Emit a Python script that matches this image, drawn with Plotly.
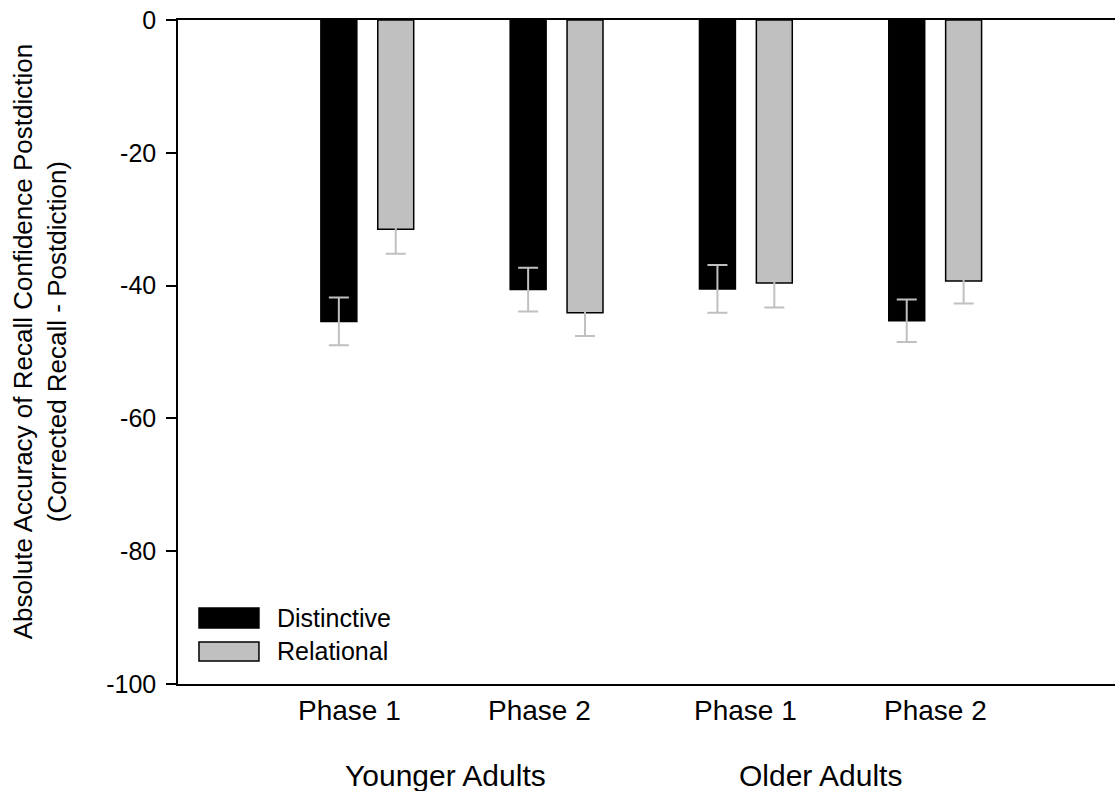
import plotly.graph_objects as go
import numpy as np

phases = ["Phase 1", "Phase 2", "Phase 1", "Phase 2"]
groups = ["Younger Adults", "Older Adults"]
distinctive = [-45.4, -40.6, -40.5, -45.3]
distinctive_err = [3.6, 3.3, 3.6, 3.2]
relational = [-31.5, -44.1, -39.6, -39.3]
relational_err = [3.7, 3.5, 3.7, 3.4]
y_ticks = [0, -20, -40, -60, -80, -100]

FONT = "Liberation Sans, Arial, sans-serif"
xpos = np.arange(len(phases))

err_style = dict(type="data", visible=True, color="#c0c0c0", thickness=2, width=10)

fig = go.Figure()
fig.add_trace(go.Bar(
    x=xpos, y=distinctive, name="Distinctive",
    marker=dict(color="#000000", line=dict(color="#000000", width=1.5)),
    error_y=dict(array=distinctive_err, **err_style),
))
fig.add_trace(go.Bar(
    x=xpos, y=relational, name="Relational",
    marker=dict(color="#c0c0c0", line=dict(color="#000000", width=1.5)),
    error_y=dict(array=relational_err, **err_style),
))

fig.update_layout(
    width=1115, height=791,
    margin=dict(l=178, r=0, t=20, b=107),
    paper_bgcolor="white", plot_bgcolor="white",
    barmode="group", bargap=0.399, bargroupgap=0.368,
    showlegend=False,
    font=dict(family=FONT, size=25, color="black"),
)
fig.update_xaxes(
    range=[-1.0, 3.95], showgrid=False, zeroline=False,
    showline=True, linecolor="black", linewidth=1.5, mirror=True,
    showticklabels=False, ticks="",
)
fig.update_yaxes(
    range=[-100, 0], tickvals=y_ticks, ticktext=[str(v) for v in y_ticks],
    showgrid=False, zeroline=False,
    showline=True, linecolor="black", linewidth=1.5,
    ticks="outside", ticklen=10, tickwidth=1.5, tickcolor="black",
    ticklabelstandoff=5,
    tickfont=dict(family=FONT, size=25, color="black"),
)

# phase labels (younger labels sit slightly left of their bars, as in the original)
phase_offsets = [-0.095, -0.09, 0.0, 0.0]
for i, lab in enumerate(phases):
    fig.add_annotation(x=xpos[i] + phase_offsets[i], y=-0.040, xref="x", yref="paper",
                       text=lab, showarrow=False, xanchor="center", yanchor="middle",
                       font=dict(family=FONT, size=28, color="black"))
group_x = [0.415, 2.395]
for gx, lab in zip(group_x, groups):
    fig.add_annotation(x=gx, y=-0.1385, xref="x", yref="paper",
                       text=lab, showarrow=False, xanchor="center", yanchor="middle",
                       font=dict(family=FONT, size=30, color="black"))

# y title
fig.add_annotation(x=-0.147, y=0.515, xref="paper", yref="paper",
                   text="Absolute Accuracy of Recall Confidence Postdiction<br>(Corrected Recall - Postdiction)",
                   textangle=-90, showarrow=False, xanchor="center", yanchor="middle",
                   font=dict(family=FONT, size=26, color="black"))

# legend
leg = [("Distinctive", "#000000", 0.1145, 0.0843, 0.0994),
       ("Relational", "#c0c0c0", 0.0633, 0.0346, 0.0497)]
for name, col, y1, y0, yt in leg:
    fig.add_shape(type="rect", xref="paper", yref="paper", x0=0.0224, x1=0.0864,
                  y0=y0, y1=y1, fillcolor=col, line=dict(color="black", width=1.5))
    fig.add_annotation(x=0.1035, y=yt, xref="paper", yref="paper", text=name,
                       showarrow=False, xanchor="left", yanchor="middle",
                       font=dict(family=FONT, size=25, color="black"))

fig.write_html("out.html")
